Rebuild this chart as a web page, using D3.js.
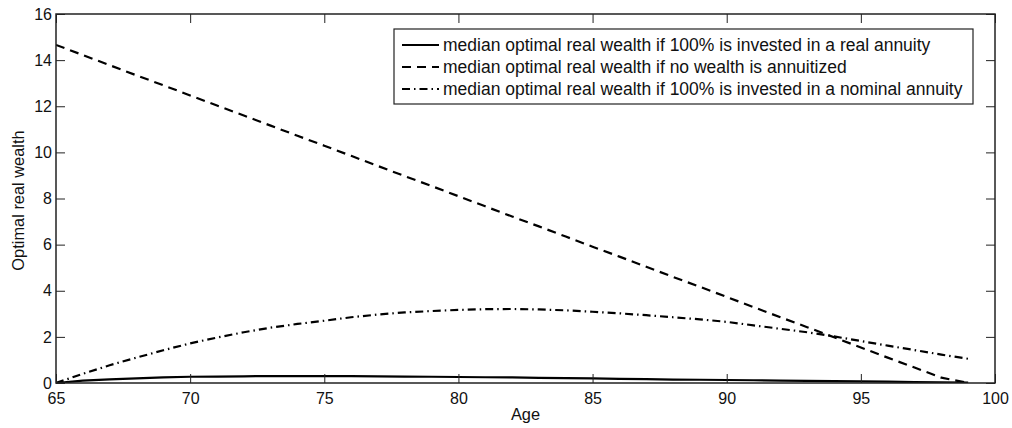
<!DOCTYPE html>
<html>
<head>
<meta charset="utf-8">
<script src="https://cdn.jsdelivr.net/npm/d3@7"></script>
<style>
  html, body { margin: 0; padding: 0; background: #fff; }
  svg { display: block; font-family: "Liberation Sans", Arial, Helvetica, sans-serif; }
</style>
</head>
<body>
<div id="chart"></div>
<script>
// ages and median optimal real wealth
const ages = [65, 66, 67, 68, 69, 70, 71, 72, 73, 74, 75, 76, 77, 78, 79, 80, 81, 82,
              83, 84, 85, 86, 87, 88, 89, 90, 91, 92, 93, 94, 95, 96, 97, 98, 99];

const realAnnuity = [0, 0.10, 0.16, 0.20, 0.24, 0.27, 0.28, 0.29, 0.30, 0.30, 0.30, 0.30,
                     0.29, 0.28, 0.27, 0.26, 0.25, 0.24, 0.22, 0.21, 0.20, 0.18, 0.17,
                     0.15, 0.14, 0.13, 0.12, 0.10, 0.09, 0.08, 0.07, 0.06, 0.04, 0.03, 0.02];

const noAnnuity = [14.66, 14.22, 13.78, 13.34, 12.91, 12.47, 12.03, 11.60, 11.16, 10.72,
                   10.29, 9.85, 9.41, 8.97, 8.54, 8.10, 7.66, 7.22, 6.79, 6.35, 5.91, 5.48,
                   5.04, 4.60, 4.17, 3.73, 3.29, 2.85, 2.42, 1.98, 1.54, 1.10, 0.67, 0.23, 0];

const nominalAnnuity = [0, 0.40, 0.77, 1.10, 1.42, 1.72, 1.97, 2.20, 2.40, 2.56, 2.70, 2.85,
                        2.97, 3.06, 3.12, 3.17, 3.20, 3.21, 3.19, 3.15, 3.09, 3.02, 2.94,
                        2.85, 2.76, 2.65, 2.50, 2.35, 2.20, 2.02, 1.82, 1.62, 1.43, 1.23, 1.05];

const xTicks = [65, 70, 75, 80, 85, 90, 95, 100];
const yTicks = [0, 2, 4, 6, 8, 10, 12, 14, 16];

const seriesNames = [
    'median optimal real wealth if 100% is invested in a real annuity',
    'median optimal real wealth if no wealth is annuitized',
    'median optimal real wealth if 100% is invested in a nominal annuity'
];

(function drawChart() {
    const width = 1012, height = 428;
    const margin = { left: 56, right: 17, top: 14, bottom: 45 };
    const plotW = width - margin.left - margin.right;
    const plotH = height - margin.top - margin.bottom;

    const svg = d3.select('#chart')
        .append('svg')
        .attr('width', width)
        .attr('height', height);

    const x = d3.scaleLinear().domain([65, 100]).range([0, plotW]);
    const y = d3.scaleLinear().domain([0, 16]).range([plotH, 0]);

    const g = svg.append('g')
        .attr('transform', `translate(${margin.left},${margin.top})`);

    const styles = [
        { values: realAnnuity, dash: null, width: 2.2 },
        { values: noAnnuity, dash: '9,6', width: 2.2 },
        { values: nominalAnnuity, dash: '8,4,1.5,4', width: 2.2 }
    ];

    const line = d3.line()
        .x((d, i) => x(ages[i]))
        .y(d => y(d));

    g.append('clipPath').attr('id', 'plot-clip')
        .append('rect').attr('width', plotW).attr('height', plotH);

    styles.forEach(s => {
        g.append('path')
            .datum(s.values)
            .attr('clip-path', 'url(#plot-clip)')
            .attr('d', line)
            .attr('fill', 'none')
            .attr('stroke', '#000')
            .attr('stroke-width', s.width)
            .attr('stroke-dasharray', s.dash);
    });

    // axes, matlab style: ticks inward on all four sides
    const tickLen = 9;
    const axisStyle = sel => {
        sel.select('.domain').remove();
        sel.selectAll('line').attr('stroke', '#222');
        sel.selectAll('text').attr('fill', '#111').style('font-size', '16px');
    };

    g.append('g')
        .attr('transform', `translate(0,${plotH})`)
        .call(d3.axisBottom(x).tickValues(xTicks).tickSize(-tickLen).tickPadding(10).tickFormat(d3.format('d')))
        .call(axisStyle);

    g.append('g')
        .call(d3.axisTop(x).tickValues(xTicks).tickSize(-tickLen).tickFormat(''))
        .call(axisStyle);

    g.append('g')
        .call(d3.axisLeft(y).tickValues(yTicks).tickSize(-tickLen).tickPadding(4).tickFormat(d3.format('d')))
        .call(axisStyle);

    g.append('g')
        .attr('transform', `translate(${plotW},0)`)
        .call(d3.axisRight(y).tickValues(yTicks).tickSize(-tickLen).tickFormat(''))
        .call(axisStyle);

    g.append('rect')
        .attr('width', plotW)
        .attr('height', plotH)
        .attr('fill', 'none')
        .attr('stroke', '#222')
        .attr('stroke-width', 1.5);

    // axis labels
    svg.append('text')
        .attr('x', margin.left + plotW / 2)
        .attr('y', 420)
        .attr('text-anchor', 'middle')
        .style('font-size', '16.4px')
        .attr('fill', '#111')
        .text('Age');

    svg.append('text')
        .attr('transform', `translate(24,${margin.top + plotH / 2 + 2}) rotate(-90)`)
        .attr('text-anchor', 'middle')
        .style('font-size', '16.4px')
        .attr('fill', '#111')
        .text('Optimal real wealth');

    // legend
    const legend = svg.append('g').attr('transform', 'translate(394,29)');
    const legendW = 579, legendH = 75, rowH = 22;

    legend.append('rect')
        .attr('width', legendW)
        .attr('height', legendH)
        .attr('fill', '#fff')
        .attr('stroke', '#222')
        .attr('stroke-width', 1.2);

    seriesNames.forEach((name, i) => {
        const cy = 16 + i * rowH;
        legend.append('line')
            .attr('x1', 8).attr('x2', 45)
            .attr('y1', cy).attr('y2', cy)
            .attr('stroke', '#000')
            .attr('stroke-width', styles[i].width)
            .attr('stroke-dasharray', styles[i].dash);
        legend.append('text')
            .attr('x', 49)
            .attr('y', cy + 6)
            .style('font-size', '17.5px')
            .attr('fill', '#111')
            .text(name);
    });
})();
</script>
</body>
</html>
